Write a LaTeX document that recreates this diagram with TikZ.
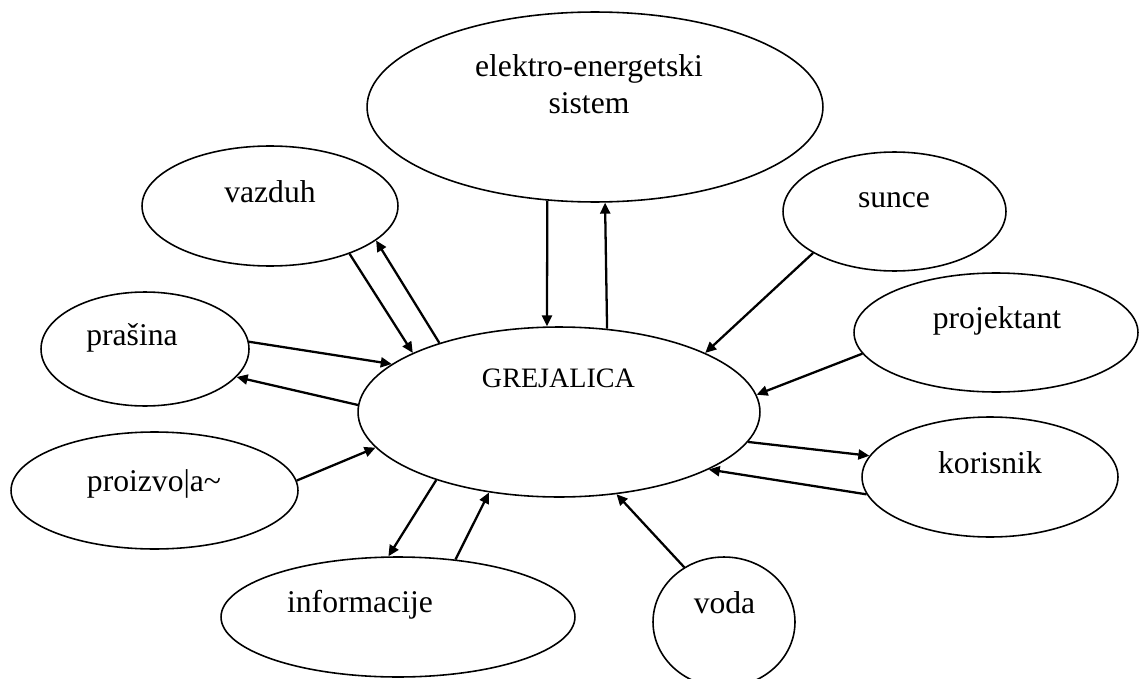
\documentclass[tikz,border=0pt]{standalone}
\usepackage{fontspec}
\setmainfont{Liberation Serif}
\usetikzlibrary{shapes.geometric,arrows.meta}

\begin{document}
\begin{tikzpicture}[x=0.02cm,y=-0.02cm,
  blob/.style={draw,ellipse,line width=0.9pt,inner sep=0pt},
  lbl/.style={anchor=base,inner sep=0pt,font=\fontsize{18}{20.7}\selectfont},
  flow/.style={-{Triangle[length=2.2mm,width=2mm]},line width=1.3pt}]
\useasboundingbox (0,0) rectangle (1139,679);
% ellipses
\node[blob,minimum width=9.12cm,minimum height=3.8cm] (eesys) at (595,107) {};
\node[blob,minimum width=5.12cm,minimum height=2.4cm] (vazduh) at (270,206) {};
\node[blob,minimum width=4.46cm,minimum height=2.38cm] (sunce) at (894.5,211.5) {};
\node[blob,minimum width=4.16cm,minimum height=2.28cm] (prasina) at (145,349) {};
\node[blob,minimum width=8.04cm,minimum height=3.4cm] (grej) at (559,412) {};
\node[blob,minimum width=5.68cm,minimum height=2.38cm] (projekt) at (996,332.5) {};
\node[blob,minimum width=5.74cm,minimum height=2.34cm] (proizv) at (154.5,490.5) {};
\node[blob,minimum width=5.12cm,minimum height=2.4cm] (korisnik) at (990,477) {};
\node[blob,minimum width=7.08cm,minimum height=2.4cm] (info) at (398,617) {};
\node[blob,minimum width=2.84cm,minimum height=2.6cm] (voda) at (724,622) {};
% labels
\node[lbl,align=center] (eesys-t) at (589,113) {elektro-energetski\\sistem};
\node[lbl] (vazduh-t) at (270,202) {vazduh};
\node[lbl] (sunce-t) at (894,207) {sunce};
\node[lbl] (prasina-t) at (132,345) {prašina};
\node[lbl,font=\fontsize{16}{19}\selectfont] (grej-t) at (558.5,387) {GREJALICA};
\node[lbl] (projekt-t) at (997,328) {projektant};
\node[lbl] (proizv-t) at (154,491) {proizvo|a\textasciitilde};
\node[lbl] (korisnik-t) at (990,473) {korisnik};
\node[lbl] (info-t) at (360,612) {informacije};
\node[lbl] (voda-t) at (724.5,613) {voda};
% flows
\draw[flow] (vazduh.-31.1) -- (grej.158.8);
\draw[flow] (grej.150.5) -- (vazduh.-18.4);
\draw[flow] (eesys.-117.3) -- (grej.98);
\draw[flow] (grej.60.9) -- (eesys.-84);
\draw[flow] (sunce.-153) -- (grej.22.8);
\draw[flow] (projekt.-171.4) -- (grej.5.5);
\draw[flow] (grej.-9.4) -- (korisnik.170.9);
\draw[flow] (korisnik.-172.4) -- (grej.-21.4);
\draw[flow] (voda.126.9) -- (grej.-55.4);
\draw[flow] (info.45) -- (grej.-131.3);
\draw[flow] (grej.-151.9) -- (info.99.5);
\draw[flow] (proizv.4.2) -- (grej.-169.1);
\draw[flow] (prasina.4.8) -- (grej.164.9);
\draw[flow] (grej.178) -- (prasina.-17.7);
\end{tikzpicture}
\end{document}
